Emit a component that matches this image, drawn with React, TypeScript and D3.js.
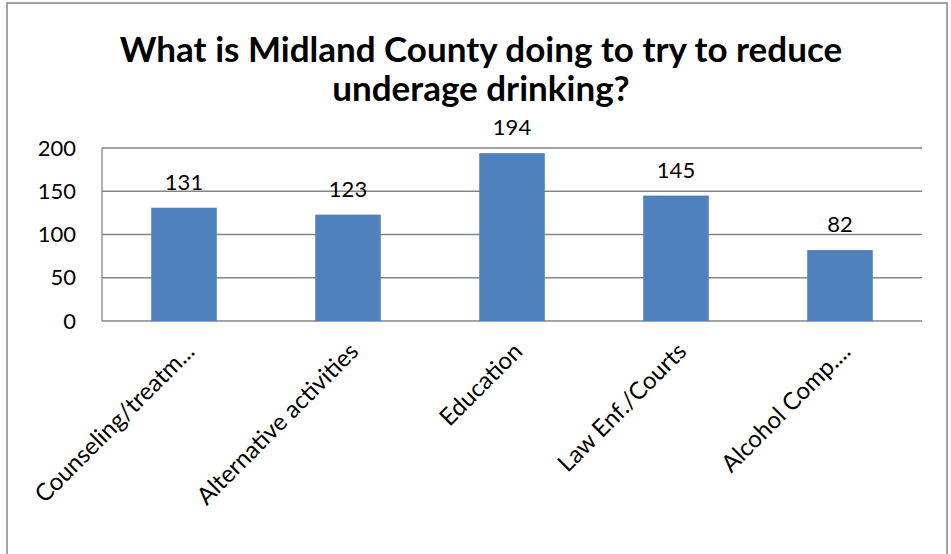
import React from "react";
import * as d3 from "d3";

const categories = ["Counseling/treatm...", "Alternative activities", "Education", "Law Enf./Courts", "Alcohol Comp...."];
const values = [131, 123, 194, 145, 82];
const yTicks = [0, 50, 100, 150, 200];
const titleLines = ["What is Midland County doing to try to reduce", "underage drinking?"];

const W = 951;
const H = 554;
const plot = { left: 102, right: 922, top: 148, bottom: 321 };
const FONT = "Lato, 'Open Sans', sans-serif";

export default function App() {
  const x = d3
    .scaleBand<string>()
    .domain(categories)
    .range([plot.left, plot.right])
    .paddingInner(0.6)
    .paddingOuter(0.3);
  const y = d3.scaleLinear().domain([0, 200]).range([plot.bottom, plot.top]);
  const grid = "#868686";

  return (
    <svg
      width={W}
      height={H}
      style={{ position: "absolute", left: 0, top: 0, background: "#fff" }}
      fontFamily={FONT}
    >
      <rect x={7} y={3} width={940} height={H} fill="#fff" stroke={grid} strokeWidth={1.5} />
      {titleLines.map((t, i) => (
        <text
          key={i}
          x={481}
          y={62 + i * 39}
          textAnchor="middle"
          fontSize={35}
          fontWeight="bold"
          fill="#000"
        >
          {t}
        </text>
      ))}
      {yTicks.map((t) => (
        <g key={t}>
          <line x1={plot.left} x2={plot.right} y1={y(t)} y2={y(t)} stroke={grid} strokeWidth={1.3} />
          <text x={76} y={y(t)} dy="0.35em" textAnchor="end" fontSize={22} fill="#000">
            {t}
          </text>
        </g>
      ))}
      <line x1={plot.left} x2={plot.left} y1={plot.top} y2={plot.bottom} stroke={grid} strokeWidth={1.3} />
      {categories.map((c, i) => {
        const bx = x(c)!;
        const cx = bx + x.bandwidth() / 2;
        return (
          <g key={c}>
            <rect
              x={bx}
              y={y(values[i])}
              width={x.bandwidth()}
              height={plot.bottom - y(values[i])}
              fill="#4F81BD"
            />
            <text x={cx} y={y(values[i]) - 18} textAnchor="middle" fontSize={22} fill="#000">
              {values[i]}
            </text>
            <text
              transform={`translate(${cx + 6},${plot.bottom + 26}) rotate(-45)`}
              textAnchor="end"
              dy="0.35em"
              fontSize={24}
              fill="#000"
            >
              {c}
            </text>
          </g>
        );
      })}
    </svg>
  );
}
